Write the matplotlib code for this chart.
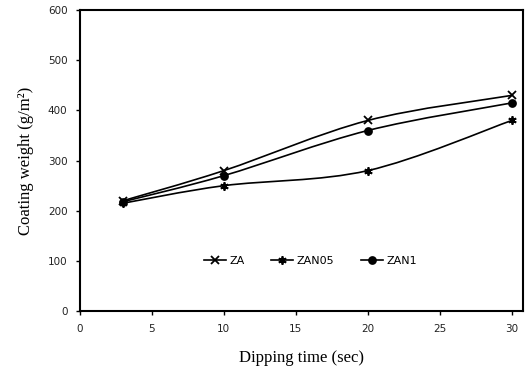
import numpy as np
import matplotlib
matplotlib.use("Agg")
import matplotlib.pyplot as plt
from matplotlib.path import Path
from matplotlib.patches import PathPatch

time_sec = [3, 10, 20, 30]
za = [220, 280, 380, 430]
zan05 = [215, 250, 280, 380]
zan1 = [218, 270, 360, 415]
x_ticks = [0, 5, 10, 15, 20, 25, 30]
y_ticks = [0, 100, 200, 300, 400, 500, 600]

fig = plt.figure(figsize=(5.29, 3.77), dpi=100)
ax = fig.add_axes([0.151, 0.175, 0.838, 0.798])


def smooth_path(x, y):
    x = np.asarray(x, float)
    y = np.asarray(y, float)
    verts = [(x[0], y[0])]
    codes = [Path.MOVETO]
    n = len(x)
    for i in range(n - 1):
        x0, y0 = (x[i - 1], y[i - 1]) if i > 0 else (x[i], y[i])
        x3, y3 = (x[i + 2], y[i + 2]) if i + 2 < n else (x[i + 1], y[i + 1])
        c1 = (x[i] + (x[i + 1] - x0) / 6, y[i] + (y[i + 1] - y0) / 6)
        c2 = (x[i + 1] - (x3 - x[i]) / 6, y[i + 1] - (y3 - y[i]) / 6)
        verts += [c1, c2, (x[i + 1], y[i + 1])]
        codes += [Path.CURVE4] * 3
    return Path(verts, codes)


series = [(za, "x", "ZA", 5.5), (zan05, (6, 2, 0), "ZAN05", 6), (zan1, "o", "ZAN1", 5)]
for ys, mk, lab, ms in series:
    ax.add_patch(PathPatch(smooth_path(time_sec, ys), fill=False, ec="black", lw=1.2))
    ax.plot(time_sec, ys, linestyle="-", lw=0, marker=mk, ms=ms, color="black",
            mew=1.3, label=lab)

handles = [plt.Line2D([], [], color="black", lw=1.2, marker=mk, ms=ms, mew=1.3)
           for _, mk, _, ms in series]
ax.legend(handles, [s[2] for s in series], loc="center", bbox_to_anchor=(0.52, 0.165),
          ncol=3, frameon=False, handlelength=2.0, columnspacing=2.4, handletextpad=0.3,
          prop={"family": "DejaVu Sans", "size": 8})

ax.set_xlim(0, 30.8)
ax.set_ylim(0, 600)
ax.set_xticks(x_ticks)
ax.set_yticks(y_ticks)
ax.tick_params(direction="out", length=3, width=1, labelsize=7.5, pad=6)
for lbl in ax.get_xticklabels() + ax.get_yticklabels():
    lbl.set_family("DejaVu Sans")
    lbl.set_color("#222222")
for s in ax.spines.values():
    s.set_linewidth(1.5)
ax.set_xlabel("Dipping time (sec)", family="Liberation Serif", size=12, labelpad=12)
ax.set_ylabel("Coating weight (g/m²)", family="Liberation Serif", size=12, labelpad=10)

fig.savefig("out.png", dpi=100)
